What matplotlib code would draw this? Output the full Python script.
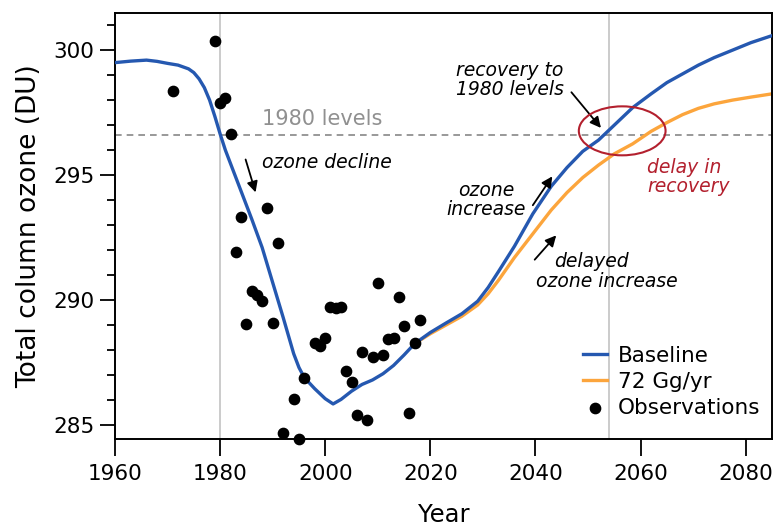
import matplotlib
matplotlib.use('Agg')
import matplotlib.pyplot as plt
from matplotlib.patches import Ellipse

# model runs
base_years = [1960, 1963, 1966, 1968, 1970, 1972, 1974, 1975, 1976, 1977, 1978, 1979,
              1980, 1981, 1982, 1984, 1986, 1988, 1990, 1992, 1994, 1995, 1996, 1998,
              2000, 2001.5, 2003, 2005, 2007, 2009, 2011, 2013, 2015, 2017, 2020, 2023,
              2026, 2029, 2031, 2033, 2036, 2039.5, 2043, 2046, 2049, 2052, 2053, 2055,
              2058.5, 2062, 2065, 2068, 2071, 2074, 2077.5, 2081, 2085]
base_vals = [299.50, 299.56, 299.60, 299.55, 299.47, 299.40, 299.25, 299.10, 298.85,
             298.50, 298.00, 297.35, 296.65, 296.00, 295.45, 294.35, 293.25, 292.10,
             290.70, 289.30, 287.85, 287.30, 286.90, 286.45, 286.05, 285.84, 286.02,
             286.35, 286.62, 286.80, 287.05, 287.38, 287.80, 288.25, 288.70, 289.08,
             289.45, 289.95, 290.50, 291.15, 292.15, 293.45, 294.55, 295.30, 295.95,
             296.40, 296.60, 297.00, 297.70, 298.25, 298.70, 299.05, 299.40, 299.70,
             300.00, 300.30, 300.58]

g72_years = [2017, 2020, 2023, 2026, 2029, 2031, 2033, 2036, 2039.5, 2043, 2046, 2049,
             2052, 2055, 2058.5, 2062, 2065, 2068, 2071, 2074, 2077.5, 2081, 2085]
g72_vals = [288.25, 288.65, 289.00, 289.35, 289.80, 290.25, 290.80, 291.70, 292.65,
            293.60, 294.30, 294.90, 295.40, 295.85, 296.25, 296.75, 297.10, 297.42,
            297.67, 297.85, 298.00, 298.12, 298.25]

obs_years = [1971, 1979, 1980, 1981, 1982, 1983, 1984, 1985, 1986, 1987, 1988, 1989,
             1990, 1991, 1992, 1994, 1995, 1996, 1998, 1999, 2000, 2001, 2002, 2003,
             2004, 2005, 2006, 2007, 2008, 2009, 2010, 2011, 2012, 2013, 2014, 2015,
             2016, 2017, 2018]
obs_vals = [298.37, 300.36, 297.90, 298.10, 296.63, 291.91, 293.33, 289.04, 290.37,
            290.20, 289.97, 293.69, 289.07, 292.27, 284.69, 286.05, 284.43, 286.87,
            288.27, 288.17, 288.49, 289.73, 289.67, 289.73, 287.16, 286.71, 285.40,
            287.92, 285.20, 287.73, 290.67, 287.80, 288.44, 288.49, 290.13, 288.96,
            285.47, 288.29, 289.20]

level_1980 = 296.6
x_ticks = [1960, 1980, 2000, 2020, 2040, 2060, 2080]
y_ticks = [285, 290, 295, 300]

blue = '#2558b0'
orange = '#fca53c'
red = '#b3202e'
note = 13.5
arrow = dict(arrowstyle='-|>', color='black', lw=1.3, mutation_scale=16)

plt.rcParams['font.family'] = ['DejaVu Sans']
fig = plt.figure(figsize=(7.79, 5.27), dpi=100)
ax = fig.add_axes([0.1476, 0.1676, 0.8434, 0.8084])

ax.axvline(1980, color='#bdbdbd', lw=1.1, zorder=1)
ax.axvline(2054, color='#bdbdbd', lw=1.1, zorder=1)
ax.axhline(level_1980, color='#888888', lw=1.2, ls=(0, (4, 3)), zorder=1)

ax.plot(base_years, base_vals, color=blue, lw=2.4, label='Baseline', zorder=3)
ax.plot(g72_years, g72_vals, color=orange, lw=2.4, label='72 Gg/yr', zorder=2)
ax.scatter(obs_years, obs_vals, s=55, color='black', label='Observations', zorder=4,
           clip_on=False)

ax.add_patch(Ellipse((2056.5, 296.77), 16.5, 1.96, fill=False, ec=red, lw=1.5, zorder=5))

ax.text(1999.4, 297.24, '1980 levels', color='#909090', fontsize=15,
        ha='center', va='center')
ax.text(1987.9, 295.5, 'ozone decline', fontsize=note, style='italic', ha='left', va='center')
ax.annotate('', xy=(1986.9, 294.2), xytext=(1984.7, 295.73), arrowprops=arrow)
ax.text(2035.1, 298.8, 'recovery to\n1980 levels', fontsize=note, style='italic',
        ha='center', va='center', linespacing=1.05)
ax.annotate('', xy=(2052.8, 296.8), xytext=(2046.5, 298.4), arrowprops=arrow)
ax.text(2061.3, 294.92, 'delay in\nrecovery', fontsize=note, style='italic', color=red,
        ha='left', va='center', linespacing=1.0)
ax.text(2030.6, 294.0, 'ozone\nincrease', fontsize=note, style='italic',
        ha='center', va='center', linespacing=1.0)
ax.annotate('', xy=(2043.5, 295.04), xytext=(2039.2, 293.7), arrowprops=arrow)
ax.text(2050.6, 291.56, 'delayed', fontsize=note, style='italic', ha='center', va='center')
ax.text(2053.6, 290.76, 'ozone increase', fontsize=note, style='italic', ha='center', va='center')
ax.annotate('', xy=(2044.3, 292.67), xytext=(2039.5, 291.53), arrowprops=arrow)

ax.set_xlim(1960, 2085)
ax.set_ylim(284.45, 301.5)
ax.set_xticks(x_ticks)
ax.set_yticks(y_ticks)
ax.set_yticks(range(285, 302), minor=True)
ax.tick_params(axis='both', which='major', labelsize=15.5, width=1.3, length=11,
               direction='out', pad=4)
ax.tick_params(axis='y', which='minor', width=1.3, length=6)
ax.tick_params(axis='x', which='major', length=12, pad=6)
for sp in ax.spines.values():
    sp.set_linewidth(1.4)

ax.set_xlabel('Year', fontsize=17.5, labelpad=14)
ax.set_ylabel('Total column ozone (DU)', fontsize=19, labelpad=8)

ax.legend(loc='lower right', bbox_to_anchor=(1.005, 0.014), frameon=False, fontsize=15.5,
          handlelength=1.1, handletextpad=0.5, labelspacing=0.28, borderaxespad=0.3)

fig.savefig('out.png', dpi=100)
